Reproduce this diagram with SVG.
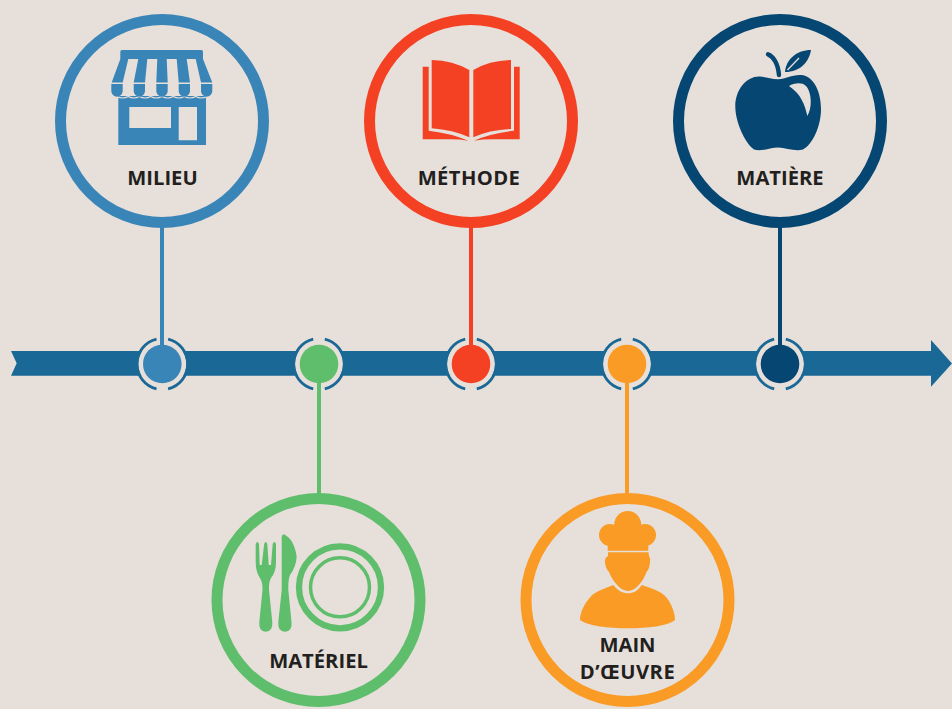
<svg xmlns="http://www.w3.org/2000/svg" width="952" height="709" viewBox="0 0 952 709">
<style>
.ring{fill:none;stroke-width:11}
.lbl{font-family:"Open Sans","Liberation Sans",sans-serif;font-weight:700;font-size:20.2px;fill:#231f20;text-anchor:middle}
.halo{fill:#e7dfda}
.arc{fill:none;stroke:#1a6896;stroke-width:2.8}
.bg{fill:#e7dfda}
.blue{fill:#3a85b8}.green{fill:#5fbe6c}.red{fill:#f44123}.orange{fill:#f99b25}.navy{fill:#054672}
</style>
<defs>
<g id="dot"><circle class="halo" r="24"/><path class="arc" d="M-5.800-24.800A25.500 25.500 0 0 0-5.800 24.800M5.800-24.800A25.500 25.500 0 0 1 5.800 24.800"/></g>
</defs>
<rect class="bg" width="952" height="709"/>
<path id="timeline" fill="#1a6896" d="M11 351H931V340L952 363.500L931 386.700V375.700H11L16.700 363.300Z"/>
<g id="dot-backs">
<use href="#dot" x="162.300" y="364"/>
<use href="#dot" x="319" y="364"/>
<use href="#dot" x="471" y="364"/>
<use href="#dot" x="627" y="364"/>
<use href="#dot" x="780" y="364"/>
</g>
<g id="connectors" stroke-width="4" fill="none">
<path stroke="#3a85b8" d="M162 224V350"/>
<path stroke="#5fbe6c" d="M319 380V497"/>
<path stroke="#f44123" d="M471 224V350"/>
<path stroke="#f99b25" d="M627 380V497"/>
<path stroke="#054672" d="M780 224V350"/>
</g>
<g id="dot-milieu"><circle class="blue" cx="162.300" cy="364" r="19.300"/></g>
<g id="dot-materiel"><circle class="green" cx="319" cy="364" r="19.300"/></g>
<g id="dot-methode"><circle class="red" cx="471" cy="364" r="19.300"/></g>
<g id="dot-main"><circle class="orange" cx="627" cy="364" r="19.300"/></g>
<g id="dot-matiere"><circle class="navy" cx="780" cy="364" r="19.300"/></g>

<g id="milieu">
<circle class="ring" cx="162" cy="121" r="101.500" stroke="#3a85b8"/>
<path class="blue" d="M118.300 96H206V145H118.300ZM129.300 107V128H171V107ZM178.700 107V140.300H197V107Z" fill-rule="evenodd"/>
<path fill="none" stroke="#e7dfda" stroke-width="1.200" d="M117 96.500q5.600 3 11.300 0q5.600 3 11.100 0q5.600 3 11.300 0q5.600 3 11.300 0q5.600 3 11.300 0q5.600 3 11.100 0q5.600 3 11.300 0q5.600 3 11.300 0"/>
<path class="blue" d="M122 50H201.500Q203 50 203 52V59H120.300V52Q120.300 50 122 50Z"/>
<path class="blue" d="M120.300 59H128.300L122.700 82.500H111.700ZM138.300 59H147.300L145 82.500H133.700ZM157.300 59H166.700L167.700 82.500H156.300ZM176.700 59H186.700L190 82.500H178.700ZM195.700 59H203L212.300 82.500H201Z"/>
<path class="blue" d="M111.300 84H122.700V91A5.700 5.700 0 0 1 111.300 91ZM133.700 84H145V91A5.650 5.650 0 0 1 133.700 91ZM156.300 84H167.700V91A5.700 5.700 0 0 1 156.300 91ZM178.700 84H190V91A5.650 5.650 0 0 1 178.700 91ZM201 84H212.300V91A5.650 5.650 0 0 1 201 91Z"/>
<text class="lbl" x="162.500" y="184.500">MILIEU</text>
</g>

<g id="methode">
<circle class="ring" cx="471" cy="121" r="101.500" stroke="#f44123"/>
<path class="red" d="M431.700 60Q453 60.500 469.300 70V137.300Q453 130 431.700 128.300Z"/>
<path class="red" d="M511 60Q489.500 60.500 473.300 70V137.300Q489.500 130 511 129Z"/>
<path class="red" d="M422.700 66.700H428.700V130.700Q452 133.500 468.300 140.700Q460 139.300 450 139.300H422.700Z"/>
<path class="red" d="M519.700 66.700H514V130.700Q490 133.500 474 140.700Q482 139.300 492 139.300H519.700Z"/>
<text class="lbl" x="469" y="184.500" letter-spacing="0.400">MÉTHODE</text>
</g>

<g id="matiere">
<circle class="ring" cx="780" cy="121" r="101.500" stroke="#054672"/>
<path class="navy" fill-rule="evenodd" d="M778.300 79.300C786 79 792 74.500 801 75C814 76 821 92 821 109C821 126 813 144 803 149.500C795 152 786 147.500 778.300 147.500C770 147.500 762 152 754 149.500C745 143 735.300 122 735.300 106.500C735.300 90 746 76 760 76.500C767 76.800 772 79.500 778.300 79.300ZM789 86C794 83 802 82 806 86C811 91 813 106 807.300 116C805 105 801 94 789 86Z"/>
<path fill="none" stroke="#054672" stroke-width="4.400" stroke-linecap="round" d="M768 54.300C773 56 778 63 779 75"/>
<path class="navy" d="M785 72C786 59 797 50 811 50C809 62 800 72 785 72Z"/>
<path fill="none" stroke="#e7dfda" stroke-width="1.300" d="M787.500 70L799 58"/>
<text class="lbl" x="780" y="184.500">MATIÈRE</text>
</g>

<g id="materiel">
<circle class="ring" cx="318.500" cy="600" r="101.500" stroke="#5fbe6c"/>
<path class="green" d="M255.700 544Q257.400 540 259 544L259.700 565H261.700L264.200 544Q265.700 540 267.300 544L268.700 565H271L272.700 544Q274.300 540 276 544V562Q276 572 271 578Q268.700 582 269 590L272.300 622Q273 631.700 265.700 631.700Q258.600 631.700 259.300 622L262.500 590Q262.700 582 260 578Q255.700 572 255.700 562Z"/>
<path class="green" d="M281.700 537Q282 534.300 284 534.300Q294 539 296.700 556.700Q296 567 290 575Q288 580 288.300 590L291.500 622Q292.500 631.700 285 631.700Q277.500 631.700 278.300 622L281.700 590Z"/>
<circle cx="340" cy="587.300" r="41" fill="none" stroke="#5fbe6c" stroke-width="6.300"/>
<circle cx="340" cy="587.300" r="29.500" fill="none" stroke="#5fbe6c" stroke-width="3.500"/>
<text class="lbl" x="318.500" y="667.500">MATÉRIEL</text>
</g>

<g id="main">
<circle class="ring" cx="627.500" cy="600" r="101.500" stroke="#f99b25"/>
<circle class="orange" cx="627.700" cy="524.500" r="13.500"/>
<circle class="orange" cx="610" cy="535" r="11"/>
<circle class="orange" cx="645" cy="535" r="11"/>
<path class="orange" d="M607.700 528H648.300V550.700H607.700Z"/>
<path class="orange" d="M608 552.300H648.500L649 556Q650.500 558 650 562Q649.500 569 646.500 572C643 582 635 591 628 591C621 591 613 582 609 572C606 569 604.500 563 605 560Q605.500 557 608 556Z"/>
<path class="orange" d="M613.300 585C618 591 623 593.300 628 593.300C633 593.300 638 591 641.700 585C654 589 664 592 669 601C673 608 675 614 675 620C668 626 648 628.300 628 628.300C608 628.300 588 626 580 620C580 614 583 606 588 600C593 592 603 589 613.300 585Z"/>
<text class="lbl" x="627.500" y="651.500">MAIN</text>
<text class="lbl" x="627.500" y="678.500" letter-spacing="0.500">D’ŒUVRE</text>
</g>
</svg>
